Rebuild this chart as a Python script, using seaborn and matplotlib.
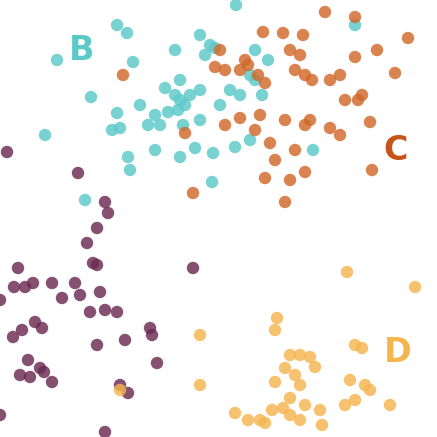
import matplotlib
matplotlib.use("Agg")
import matplotlib.pyplot as plt
import seaborn as sns
import pandas as pd

b_x = [117,127,236,200,210,175,215,133,57,91,117,140,155,165,175,180,185,178,190,200,220,230,240,255,262,250,255,268,148,112,120,183,200,160,45,155,180,195,213,235,250,128,130,212,85,355,313,205,180,168]
b_y = [25,33,5,35,45,50,48,62,60,97,113,105,115,88,95,100,105,110,95,90,105,90,95,80,95,75,50,60,125,130,128,125,120,125,135,150,157,148,153,147,140,157,170,182,200,25,150,55,80,112]
c_x = [263,283,303,325,355,377,408,355,340,395,290,295,305,312,220,225,245,240,248,258,265,330,345,358,362,370,330,310,305,285,260,240,225,255,270,275,295,305,290,265,285,193,185,123,215,340,372,300]
c_y = [32,33,35,12,17,50,38,57,75,73,50,70,75,80,50,70,60,70,65,75,83,80,100,100,95,122,128,120,125,120,115,118,125,130,143,160,150,172,180,178,202,193,133,75,67,135,170,55]
a_x = [7,78,105,108,97,87,93,97,18,193,14,25,33,52,75,80,62,100,0,105,117,90,35,42,13,22,97,125,150,152,28,40,20,30,52,157,128,105,0,120,44]
a_y = [152,173,202,213,228,243,263,265,268,268,287,287,283,283,283,295,298,292,300,310,312,312,322,328,337,330,345,340,328,335,360,368,375,377,382,363,393,432,415,385,372]
d_x = [347,415,200,277,275,290,300,310,315,285,295,275,300,290,305,272,283,260,235,248,265,290,300,322,200,355,362,350,365,370,355,345,390,120,320]
d_y = [272,287,335,318,330,355,355,357,367,368,375,382,385,398,405,410,408,420,413,420,423,415,420,425,385,345,348,380,385,390,400,405,405,390,410]

df = pd.concat([
    pd.DataFrame({"x": a_x, "y": a_y, "g": "A"}),
    pd.DataFrame({"x": b_x, "y": b_y, "g": "B"}),
    pd.DataFrame({"x": c_x, "y": c_y, "g": "C"}),
    pd.DataFrame({"x": d_x, "y": d_y, "g": "D"}),
])
pal = {"A": "#6B2A52", "B": "#5CC9C9", "C": "#D1692A", "D": "#F5B54F"}

fig = plt.figure(figsize=(4.37, 4.37), dpi=100)
ax = fig.add_axes([0, 0, 1, 1])
sns.scatterplot(data=df, x="x", y="y", hue="g", palette=pal, s=80, alpha=0.82,
                edgecolor="none", legend=False, ax=ax)
ax.set_xlim(0, 437)
ax.set_ylim(437, 0)
ax.axis("off")
ax.text(82, 50, "B", color="#5CC9C9", fontsize=24, fontweight="bold", ha="center", va="center")
ax.text(396, 150, "C", color="#C5531A", fontsize=24, fontweight="bold", ha="center", va="center")
ax.text(398, 352, "D", color="#F5B54F", fontsize=24, fontweight="bold", ha="center", va="center")
fig.savefig("out.png", dpi=100)
